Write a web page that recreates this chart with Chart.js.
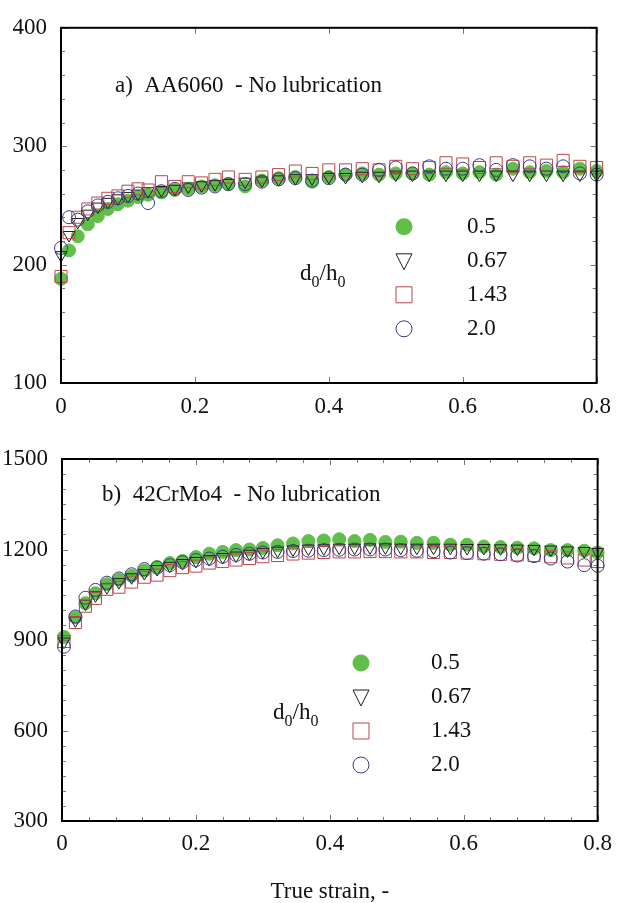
<!DOCTYPE html>
<html>
<head>
<meta charset="utf-8">
<script src="https://cdn.jsdelivr.net/npm/chart.js@4.4.1/dist/chart.umd.min.js"></script>
<style>
  html, body { margin: 0; padding: 0; background: #fff; overflow: hidden; }
  #wrap { position: relative; width: 621px; height: 903px; }
  canvas { position: absolute; left: 0; }
</style>
</head>
<body>
<div id="wrap">
  <canvas id="chartA" style="top:0; width:621px; height:430px"></canvas>
  <canvas id="chartB" style="top:430px; width:621px; height:473px"></canvas>
</div>
<script>
// Panel a) AA6060 - true strain vs flow stress
const strainA = [0, 0.012, 0.025, 0.04, 0.055, 0.07, 0.085, 0.1, 0.115, 0.13, 0.15, 0.17, 0.19, 0.21, 0.23, 0.25,
  0.275, 0.3, 0.325, 0.35, 0.375, 0.4, 0.425, 0.45, 0.475, 0.5, 0.525, 0.55, 0.575, 0.6, 0.625, 0.65, 0.675, 0.7,
  0.725, 0.75, 0.775, 0.8];
const stressA_05 = [188, 212, 224, 234, 241, 247, 251, 254, 257, 259, 261, 263, 264, 266, 267, 268,
  266, 271, 273, 274, 270, 274, 276, 277, 276, 277, 277, 276, 278, 277, 278, 276, 281, 278, 279, 278, 281, 279];
const stressA_067 = [208, 225, 236, 243, 249, 253, 256, 258, 260, 262, 263, 264, 266, 267, 268, 269,
  270, 271, 272, 273, 273, 274, 274, 275, 275, 276, 276, 276, 276, 276, 276, 276, 276, 276, 276, 276, 276, 276];
const stressA_143 = [190, 227, 240, 247, 252, 256, 258, 262, 264, 263, 270, 266, 270, 269, 272, 274,
  272, 274, 276, 279, 277, 280, 280, 281, 280, 283, 281, 282, 286, 285, 282, 286, 283, 286, 284, 288, 283, 282];
const stressA_20 = [214, 240, 238, 245, 250, 253, 256, 258, 260, 252, 262, 264, 263, 265, 266, 268,
  268, 270, 272, 273, 271, 273, 276, 276, 280, 282, 277, 283, 281, 281, 284, 280, 284, 283, 281, 283, 277, 276];

// Panel b) 42CrMo4
const strainB = [0.003, 0.02, 0.035, 0.05, 0.067, 0.085, 0.104, 0.123, 0.142, 0.161, 0.18, 0.2, 0.22, 0.24, 0.26, 0.28,
  0.3, 0.322, 0.345, 0.368, 0.391, 0.414, 0.437, 0.46, 0.483, 0.506, 0.53, 0.555, 0.58, 0.605, 0.63, 0.655, 0.68,
  0.705, 0.73, 0.755, 0.78, 0.8];
const stressB_05 = [910, 975, 1022, 1055, 1085, 1100, 1113, 1130, 1142, 1155, 1162, 1175, 1186, 1192, 1198, 1200,
  1205, 1214, 1220, 1228, 1230, 1234, 1228, 1232, 1225, 1226, 1222, 1222, 1216, 1216, 1210, 1208, 1206, 1204,
  1198, 1198, 1196, 1190];
const stressB_067 = [895, 965, 1020, 1048, 1075, 1092, 1108, 1122, 1135, 1146, 1155, 1162, 1168, 1175, 1180, 1186,
  1192, 1196, 1200, 1203, 1204, 1206, 1206, 1207, 1207, 1206, 1206, 1206, 1206, 1205, 1205, 1204, 1203, 1202,
  1200, 1197, 1195, 1192];
const stressB_143 = [895, 958, 1012, 1038, 1068, 1075, 1092, 1108, 1115, 1130, 1140, 1145, 1155, 1160, 1165, 1170,
  1176, 1180, 1185, 1188, 1190, 1192, 1192, 1193, 1193, 1192, 1192, 1190, 1190, 1188, 1186, 1184, 1182, 1180,
  1176, 1172, 1165, 1160];
const stressB_20 = [878, 978, 1040, 1066, 1090, 1104, 1118, 1135, 1140, 1148, 1158, 1165, 1170, 1176, 1182, 1186,
  1190, 1192, 1195, 1196, 1198, 1199, 1200, 1200, 1200, 1198, 1196, 1194, 1190, 1188, 1186, 1184, 1180, 1178,
  1170, 1160, 1148, 1146];

const ratioLabels = ['0.5', '0.67', '1.43', '2.0'];
const xTicks = [0, 0.2, 0.4, 0.6, 0.8];
const yTicksA = [100, 200, 300, 400];
const yTicksB = [300, 600, 900, 1200, 1500];

const FONT = '"Liberation Serif", "Times New Roman", serif';
const GREEN = '#5fbf48';
const TRI = '#1e1e1e';
const SQ = '#b9474c';
const RING = '#3a3a8c';

const styles = [
  { pointStyle: 'circle', radius: 6.5, fill: GREEN, stroke: GREEN, rot: 0, order: 4 },
  { pointStyle: 'triangle', radius: 7, fill: 'rgba(0,0,0,0)', stroke: TRI, rot: 180, order: 3 },
  { pointStyle: 'rect', radius: 8.5, fill: 'rgba(0,0,0,0)', stroke: SQ, rot: 0, order: 2 },
  { pointStyle: 'circle', radius: 6.5, fill: 'rgba(0,0,0,0)', stroke: RING, rot: 0, order: 1 }
];

function makeSets(xs, series) {
  return series.map((ys, i) => ({
    label: ratioLabels[i],
    data: xs.map((x, j) => ({ x: x, y: ys[j] })),
    showLine: false,
    pointStyle: styles[i].pointStyle,
    pointRadius: styles[i].radius,
    pointRotation: styles[i].rot,
    pointBackgroundColor: styles[i].fill,
    pointBorderColor: styles[i].stroke,
    pointBorderWidth: 1,
    order: styles[i].order,
    clip: false
  }));
}

// draws the box, inward ticks, panel caption and the d0/h0 key
const panelDeco = {
  id: 'panelDeco',
  afterDatasetsDraw(chart, args, o) {
    const { ctx, chartArea: a, scales: { x, y } } = chart;
    ctx.save();
    ctx.strokeStyle = '#777';
    ctx.lineWidth = 1;
    ctx.beginPath();
    for (let v = o.yMin; v <= o.yMax + 1e-6; v += o.yMinor) {
      const py = Math.round(y.getPixelForValue(v)) + 0.5;
      const len = Math.abs(v % o.yMajor) < 1e-6 ? 6 : 4;
      ctx.moveTo(a.left, py); ctx.lineTo(a.left + len, py);
      ctx.moveTo(a.right, py); ctx.lineTo(a.right - len, py);
    }
    for (let v = 0; v <= 0.8 + 1e-6; v += o.xMinor) {
      const px = Math.round(x.getPixelForValue(v)) + 0.5;
      const len = Math.abs((v / 0.2) - Math.round(v / 0.2)) < 1e-6 ? 6 : 4;
      ctx.moveTo(px, a.top); ctx.lineTo(px, a.top + len);
      ctx.moveTo(px, a.bottom); ctx.lineTo(px, a.bottom - len);
    }
    ctx.stroke();

    ctx.strokeStyle = '#000';
    ctx.lineWidth = 2;
    ctx.strokeRect(a.left, a.top, a.right - a.left, a.bottom - a.top);

    // caption
    ctx.fillStyle = '#111';
    ctx.textBaseline = 'middle';
    ctx.textAlign = 'left';
    ctx.font = '23px ' + FONT;
    ctx.fillText(o.caption, a.left + o.capDx, a.top + o.capDy);

    // key
    o.rows.forEach((ry, i) => {
      const cy = a.top + ry;
      const cx = a.left + o.keyDx;
      const s = styles[i];
      ctx.lineWidth = 1;
      ctx.strokeStyle = s.stroke;
      ctx.fillStyle = s.fill;
      ctx.beginPath();
      if (i === 0) {
        ctx.arc(cx, cy, 8.5, 0, Math.PI * 2);
        ctx.fill();
      } else if (i === 1) {
        ctx.moveTo(cx - 8, cy - 7); ctx.lineTo(cx + 8, cy - 7); ctx.lineTo(cx, cy + 9); ctx.closePath();
        ctx.stroke();
      } else if (i === 2) {
        ctx.rect(cx - 8, cy - 8, 16, 16);
        ctx.stroke();
      } else {
        ctx.arc(cx, cy, 8, 0, Math.PI * 2);
        ctx.stroke();
      }
      ctx.fillStyle = '#111';
      ctx.font = '23px ' + FONT;
      ctx.fillText(ratioLabels[i], a.left + o.labDx, cy);
    });

    // d0/h0
    let tx = a.left + o.dDx;
    const ty = a.top + o.dDy;
    const part = (txt, size, dy) => {
      ctx.font = size + 'px ' + FONT;
      ctx.fillText(txt, tx, ty + dy);
      tx += ctx.measureText(txt).width;
    };
    part('d', 23, 0); part('0', 16, 9); part('/h', 23, 0); part('0', 16, 9);
    ctx.restore();
  }
};

function makeChart(id, w, h, opts) {
  const cv = document.getElementById(id);
  cv.width = w; cv.height = h;
  return new Chart(cv, {
    type: 'scatter',
    data: { datasets: makeSets(opts.xs, opts.series) },
    options: {
      responsive: false,
      animation: false,
      events: [],
      layout: { padding: { top: opts.padTop, right: opts.padRight, left: 0, bottom: 0 } },
      plugins: {
        legend: { display: false },
        tooltip: { enabled: false },
        panelDeco: opts.deco
      },
      scales: {
        x: {
          type: 'linear', min: 0, max: 0.8,
          afterBuildTicks: s => { s.ticks = xTicks.map(v => ({ value: v })); },
          afterFit: s => { s.height = opts.xHeight; },
          grid: { display: false, drawTicks: false },
          border: { display: false },
          ticks: { color: '#111', font: { family: FONT, size: 23 }, padding: opts.xPad, maxRotation: 0,
                   callback: v => String(v) },
          title: opts.title ? { display: true, text: opts.title, color: '#111', padding: 0,
                   font: { family: FONT, size: 23, lineHeight: 1 } } : { display: false }
        },
        y: {
          type: 'linear', min: opts.yTicks[0], max: opts.yTicks[opts.yTicks.length - 1],
          afterBuildTicks: s => { s.ticks = opts.yTicks.map(v => ({ value: v })); },
          afterFit: s => { s.width = opts.yWidth; },
          grid: { display: false, drawTicks: false },
          border: { display: false },
          ticks: { color: '#111', font: { family: FONT, size: 23 }, padding: 14,
                   callback: v => String(v) }
        }
      }
    },
    plugins: [panelDeco]
  });
}

makeChart('chartA', 621, 430, {
  xs: strainA,
  series: [stressA_05, stressA_067, stressA_143, stressA_20],
  yTicks: yTicksA, padTop: 18, padRight: 15, yWidth: 61, xHeight: 47, xPad: 10,
  deco: {
    yMin: 100, yMax: 400, yMinor: 20, yMajor: 100, xMinor: 0.2,
    caption: 'a)  AA6060  - No lubrication', capDx: 54, capDy: 58,
    rows: [199, 233, 267, 301], keyDx: 343, labDx: 406, dDx: 239, dDy: 246
  }
});

makeChart('chartB', 621, 473, {
  xs: strainB,
  series: [stressB_05, stressB_067, stressB_143, stressB_20],
  yTicks: yTicksB, padTop: 29, padRight: 19, yWidth: 62, xHeight: 82, xPad: 9,
  title: 'True strain, -',
  deco: {
    yMin: 300, yMax: 1500, yMinor: 50, yMajor: 300, xMinor: 0.04,
    caption: 'b)  42CrMo4  - No lubrication', capDx: 40, capDy: 36,
    rows: [204, 238, 272, 306], keyDx: 299, labDx: 369, dDx: 211, dDy: 254
  }
});
</script>
</body>
</html>
